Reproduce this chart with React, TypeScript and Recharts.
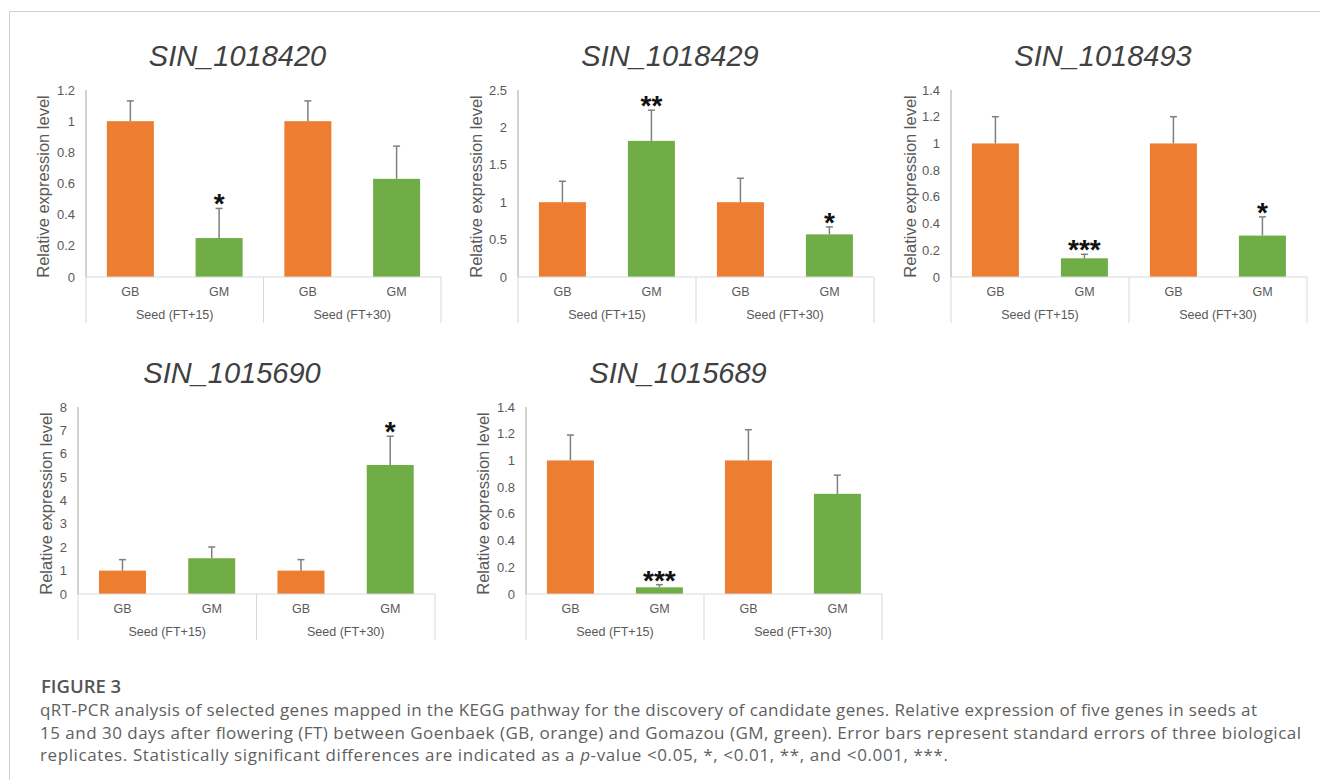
import React from 'react';
import { BarChart, Bar, XAxis, YAxis } from 'recharts';

// ---------- data ----------
const categories = ['GB', 'GM', 'GB', 'GM'];
const groups = ['Seed (FT+15)', 'Seed (FT+15)', 'Seed (FT+30)', 'Seed (FT+30)'];

const geneNames = ['SIN_1018420', 'SIN_1018429', 'SIN_1018493', 'SIN_1015690', 'SIN_1015689'];

const values1018420 = [1, 0.25, 1, 0.63];
const errors1018420 = [0.13, 0.19, 0.13, 0.21];
const signif1018420 = ['', '*', '', ''];

const values1018429 = [1, 1.82, 1, 0.57];
const errors1018429 = [0.28, 0.41, 0.32, 0.1];
const signif1018429 = ['', '**', '', '*'];

const values1018493 = [1, 0.14, 1, 0.31];
const errors1018493 = [0.2, 0.03, 0.2, 0.14];
const signif1018493 = ['', '***', '', '*'];

const values1015690 = [1, 1.53, 1, 5.52];
const errors1015690 = [0.47, 0.48, 0.47, 1.23];
const signif1015690 = ['', '', '', '*'];

const values1015689 = [1, 0.05, 1, 0.75];
const errors1015689 = [0.19, 0.02, 0.23, 0.14];
const signif1015689 = ['', '***', '', ''];

const ticks1018420 = [0, 0.2, 0.4, 0.6, 0.8, 1, 1.2];
const ticks1018429 = [0, 0.5, 1, 1.5, 2, 2.5];
const ticks1018493 = [0, 0.2, 0.4, 0.6, 0.8, 1, 1.2, 1.4];
const ticks1015690 = [0, 1, 2, 3, 4, 5, 6, 7, 8];
const ticks1015689 = [0, 0.2, 0.4, 0.6, 0.8, 1, 1.2, 1.4];

const yAxisTitle = 'Relative expression level';

// ---------- styles ----------
const ORANGE = '#ED7D31';
const GREEN = '#70AD47';
const AXIS_TEXT = '#595959';
const BORDER = '#a6a6a6';
const LIGHT = '#d9d9d9';
const ERR = '#7f7f7f';
const FONT = '"Liberation Sans", Arial, sans-serif';

const PLOT_H = 187;
const M_TOP = 10;
const M_LEFT = 10;
const M_RIGHT = 10;
const M_BOTTOM = 6;
const Y_W = 50;
const X1_H = 26;
const X2_H = 24;

type PanelProps = {
  values: number[];
  errors: number[];
  signif: string[];
  ticks: number[];
  plotLeft: number;
  plotTop: number;
  plotWidth: number;
  labelOffset: number;
};

const fmt = (v: number) => String(Math.round(v * 10) / 10);

function BarWithError(props: any) {
  const { x, y, width, height, payload, index } = props;
  const fill = payload.cat === 'GB' ? ORANGE : GREEN;
  const pxPerUnit = payload.value > 0 ? height / payload.value : 0;
  const errPx = payload.err * pxPerUnit;
  const cx = x + width / 2;
  const topY = y - errPx;
  return (
    <g key={`b-${index}`}>
      <rect x={x} y={y} width={width} height={height} fill={fill} />
      {payload.err > 0 && (
        <g stroke={ERR} strokeWidth={1.5}>
          <line x1={cx} x2={cx} y1={y} y2={topY} />
          <line x1={cx - 3.5} x2={cx + 3.5} y1={topY} y2={topY} />
        </g>
      )}
      {payload.sig && (
        <text
          x={cx}
          y={topY + 5}
          textAnchor="middle"
          fontFamily={FONT}
          fontWeight="bold"
          fontSize={28}
          fill="#111"
        >
          {payload.sig}
        </text>
      )}
    </g>
  );
}

function YLabel(props: any) {
  const vb = props.viewBox || {};
  const off = props.labelOffset;
  const cx = vb.x + vb.width - off;
  const cy = vb.y + vb.height / 2 + 3;
  return (
    <text
      x={cx}
      y={cy}
      transform={`rotate(-90, ${cx}, ${cy})`}
      textAnchor="middle"
      dominantBaseline="central"
      fontFamily={FONT}
      fontSize={16.5}
      fill={AXIS_TEXT}
    >
      {yAxisTitle}
    </text>
  );
}

function Panel({ values, errors, signif, ticks, plotLeft, plotTop, plotWidth, labelOffset }: PanelProps) {
  const data = categories.map((c, i) => ({
    cat: c,
    group: groups[i],
    value: values[i],
    err: errors[i],
    sig: signif[i],
  }));
  const slot = plotWidth / categories.length;
  const width = M_LEFT + Y_W + plotWidth + M_RIGHT;
  const height = M_TOP + PLOT_H + X1_H + X2_H + M_BOTTOM;
  const yMax = ticks[ticks.length - 1];

  const CatTick = (p: any) => {
    const { x, y, index, payload } = p;
    return (
      <g>
        <text
          x={x}
          y={y + 15}
          textAnchor="middle"
          dominantBaseline="central"
          fontFamily={FONT}
          fontSize={12.5}
          fill={AXIS_TEXT}
        >
          {payload.value}
        </text>
        {index % 2 === 0 && (
          <line x1={x - slot / 2} x2={x - slot / 2} y1={y} y2={y + 46} stroke={LIGHT} strokeWidth={1} />
        )}
        {index === categories.length - 1 && (
          <line x1={x + slot / 2} x2={x + slot / 2} y1={y} y2={y + 46} stroke={LIGHT} strokeWidth={1} />
        )}
      </g>
    );
  };

  const GroupTick = (p: any) => {
    const { x, y, payload } = p;
    return (
      <text
        x={x}
        y={y + 12}
        textAnchor="middle"
        dominantBaseline="central"
        fontFamily={FONT}
        fontSize={12.5}
        fill={AXIS_TEXT}
      >
        {payload.value}
      </text>
    );
  };

  return (
    <div style={{ position: 'absolute', left: plotLeft - Y_W - M_LEFT, top: plotTop - M_TOP }}>
      <BarChart
        width={width}
        height={height}
        data={data}
        margin={{ top: M_TOP, right: M_RIGHT, left: M_LEFT, bottom: M_BOTTOM }}
        barCategoryGap="23.5%"
      >
        <XAxis
          xAxisId="cat"
          dataKey="cat"
          allowDuplicatedCategory={true}
          height={X1_H}
          tickSize={0}
          tickMargin={0}
          tickLine={false}
          axisLine={{ stroke: LIGHT, strokeWidth: 1 }}
          tick={<CatTick />}
          interval={0}
        />
        <XAxis
          xAxisId="group"
          dataKey="group"
          allowDuplicatedCategory={false}
          height={X2_H}
          tickSize={0}
          tickMargin={0}
          tickLine={false}
          axisLine={false}
          tick={<GroupTick />}
          interval={0}
        />
        <XAxis
          xAxisId="top"
          orientation="top"
          dataKey="cat"
          height={0}
          tick={false}
          tickLine={false}
          axisLine={{ stroke: BORDER, strokeWidth: 1 }}
        />
        <YAxis
          yAxisId="left"
          width={Y_W}
          domain={[0, yMax]}
          ticks={ticks}
          tickFormatter={fmt}
          tickSize={0}
          tickMargin={11}
          tickLine={false}
          axisLine={{ stroke: BORDER, strokeWidth: 1 }}
          tick={{ fontFamily: FONT, fontSize: 13, fill: AXIS_TEXT }}
          interval={0}
          label={<YLabel labelOffset={labelOffset} />}
        />
        <YAxis
          yAxisId="right"
          orientation="right"
          width={0}
          domain={[0, yMax]}
          tick={false}
          tickLine={false}
          axisLine={{ stroke: BORDER, strokeWidth: 1 }}
        />
        <Bar
          dataKey="value"
          xAxisId="cat"
          yAxisId="left"
          isAnimationActive={false}
          shape={<BarWithError />}
        />
      </BarChart>
    </div>
  );
}

const titleStyle = {
  fontFamily: FONT,
  fontStyle: 'italic',
  fontSize: 29,
  fill: '#404040',
};

const CAP_FONT = 17;

export default function App() {
  return (
    <div
      style={{
        position: 'absolute',
        left: 0,
        top: 0,
        width: 1320,
        height: 780,
        background: '#fff',
        overflow: 'hidden',
      }}
    >
      <div
        style={{
          position: 'absolute',
          left: 9,
          top: 11,
          width: 1320,
          height: 800,
          borderTop: '1.5px solid #cfcfcf',
          borderLeft: '1.5px solid #cfcfcf',
        }}
      />
      <Panel values={values1018420} errors={errors1018420} signif={signif1018420} ticks={ticks1018420}
        plotLeft={86} plotTop={90} plotWidth={355} labelOffset={43} />
      <Panel values={values1018429} errors={errors1018429} signif={signif1018429} ticks={ticks1018429}
        plotLeft={518} plotTop={90} plotWidth={356} labelOffset={42.5} />
      <Panel values={values1018493} errors={errors1018493} signif={signif1018493} ticks={ticks1018493}
        plotLeft={951} plotTop={90} plotWidth={356} labelOffset={41.5} />
      <Panel values={values1015690} errors={errors1015690} signif={signif1015690} ticks={ticks1015690}
        plotLeft={78} plotTop={407} plotWidth={357} labelOffset={32} />
      <Panel values={values1015689} errors={errors1015689} signif={signif1015689} ticks={ticks1015689}
        plotLeft={526} plotTop={407} plotWidth={356} labelOffset={43.5} />
      <svg
        width={1320}
        height={780}
        style={{ position: 'absolute', left: 0, top: 0, pointerEvents: 'none' }}
      >
        <text x={237.5} y={66} textAnchor="middle" style={titleStyle}>{geneNames[0]}</text>
        <text x={670} y={66} textAnchor="middle" style={titleStyle}>{geneNames[1]}</text>
        <text x={1103} y={66} textAnchor="middle" style={titleStyle}>{geneNames[2]}</text>
        <text x={232} y={383} textAnchor="middle" style={titleStyle}>{geneNames[3]}</text>
        <text x={678} y={383} textAnchor="middle" style={titleStyle}>{geneNames[4]}</text>

        <g fontFamily='"Open Sans", sans-serif' fill="#5f5f5f">
          <text x={41} y={693} fontSize={18.5} fontWeight={600} fill="#555">FIGURE 3</text>
          <text x={40} y={716} fontSize={CAP_FONT} textLength={1217} lengthAdjust="spacing">
            qRT-PCR analysis of selected genes mapped in the KEGG pathway for the discovery of candidate genes. Relative expression of five genes in seeds at
          </text>
          <text x={40} y={739} fontSize={CAP_FONT} textLength={1261} lengthAdjust="spacing">
            15 and 30 days after flowering (FT) between Goenbaek (GB, orange) and Gomazou (GM, green). Error bars represent standard errors of three biological
          </text>
          <text x={40} y={761} fontSize={CAP_FONT} textLength={908} lengthAdjust="spacing">
            replicates. Statistically significant differences are indicated as a <tspan fontStyle="italic">p</tspan>-value &lt;0.05, *, &lt;0.01, **, and &lt;0.001, ***.
          </text>
        </g>
      </svg>
    </div>
  );
}
